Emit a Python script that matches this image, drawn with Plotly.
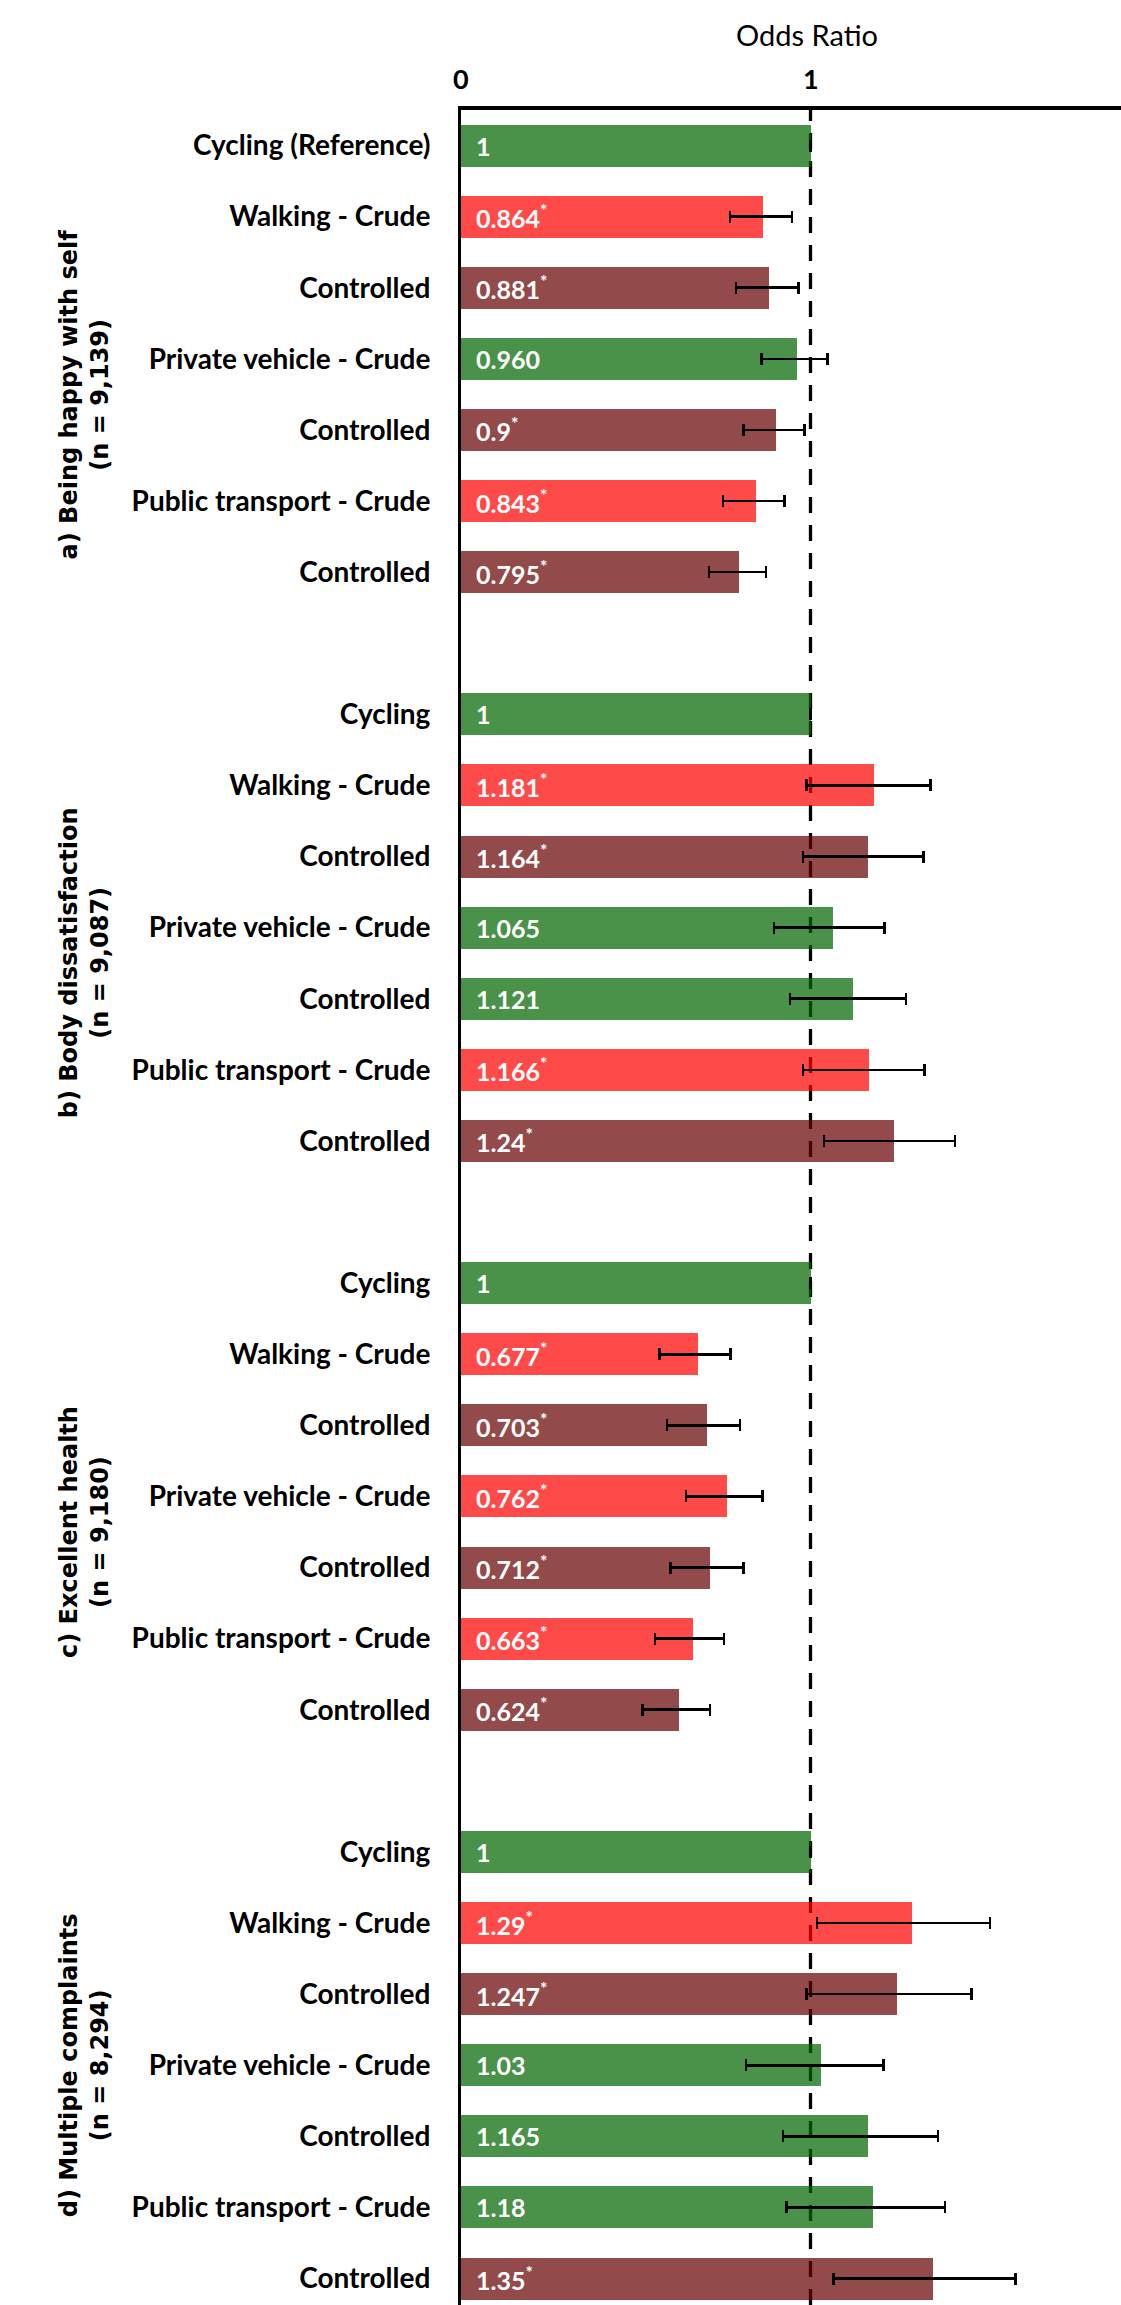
import plotly.graph_objects as go

# ---------------- data ----------------
group_titles = ["a) Being happy with self", "b) Body dissatisfaction",
                "c) Excellent health", "d) Multiple complaints"]
group_n = ["9,139", "9,087", "9,180", "8,294"]

row_labels_first = ["Cycling (Reference)", "Walking - Crude", "Controlled",
                    "Private vehicle - Crude", "Controlled",
                    "Public transport - Crude", "Controlled"]
row_labels_other = ["Cycling", "Walking - Crude", "Controlled",
                    "Private vehicle - Crude", "Controlled",
                    "Public transport - Crude", "Controlled"]
row_kind = ["ref", "crude", "controlled", "crude", "controlled", "crude", "controlled"]

odds_a = [1, 0.864, 0.881, 0.960, 0.9, 0.843, 0.795]
odds_b = [1, 1.181, 1.164, 1.065, 1.121, 1.166, 1.24]
odds_c = [1, 0.677, 0.703, 0.762, 0.712, 0.663, 0.624]
odds_d = [1, 1.29, 1.247, 1.03, 1.165, 1.18, 1.35]

text_a = ["1", "0.864", "0.881", "0.960", "0.9", "0.843", "0.795"]
text_b = ["1", "1.181", "1.164", "1.065", "1.121", "1.166", "1.24"]
text_c = ["1", "0.677", "0.703", "0.762", "0.712", "0.663", "0.624"]
text_d = ["1", "1.29", "1.247", "1.03", "1.165", "1.18", "1.35"]

sig_a = [False, True, True, False, True, True, True]
sig_b = [False, True, True, False, False, True, True]
sig_c = [False, True, True, True, True, True, True]
sig_d = [False, True, True, False, False, False, True]

ci_low_a = [None, 0.770, 0.787, 0.859, 0.808, 0.750, 0.709]
ci_high_a = [None, 0.947, 0.966, 1.048, 0.983, 0.925, 0.873]
ci_low_b = [None, 0.988, 0.978, 0.896, 0.941, 0.978, 1.039]
ci_high_b = [None, 1.344, 1.324, 1.211, 1.273, 1.327, 1.413]
ci_low_c = [None, 0.568, 0.589, 0.644, 0.599, 0.555, 0.520]
ci_high_c = [None, 0.771, 0.798, 0.862, 0.808, 0.753, 0.712]
ci_low_d = [None, 1.019, 0.989, 0.815, 0.921, 0.931, 1.065]
ci_high_d = [None, 1.514, 1.460, 1.208, 1.365, 1.385, 1.586]

x_ticks = [0, 1]
x_title = "Odds Ratio"

# ---------------- styling ----------------
GREEN = "rgba(0,100,0,0.71)"
RED = "rgba(255,0,0,0.71)"
BROWN = "rgba(102,0,0,0.71)"
LABEL_FONT = "Lato"
W, H = 1121, 2305
M_L, M_T = 461, 110
X_MAX = (W - M_L) / 349.5
ROWS_PER_GROUP = 8

odds = [odds_a, odds_b, odds_c, odds_d]
texts = [text_a, text_b, text_c, text_d]
sigs = [sig_a, sig_b, sig_c, sig_d]
lows = [ci_low_a, ci_low_b, ci_low_c, ci_low_d]
highs = [ci_high_a, ci_high_b, ci_high_c, ci_high_d]

ys, xs, cols, err_p, err_m, tick_text, ann = [], [], [], [], [], [], []
for g in range(len(group_titles)):
    labels = row_labels_first if g == 0 else row_labels_other
    for i in range(len(labels)):
        y = g * ROWS_PER_GROUP + i
        v = odds[g][i]
        ys.append(y)
        xs.append(v)
        tick_text.append(labels[i])
        if not sigs[g][i]:
            cols.append(GREEN)
        elif row_kind[i] == "crude":
            cols.append(RED)
        else:
            cols.append(BROWN)
        lo, hi = lows[g][i], highs[g][i]
        err_p.append(None if hi is None else hi - v)
        err_m.append(None if lo is None else v - lo)
        t = texts[g][i] + ("<sup>*</sup>" if sigs[g][i] else "")
        ann.append(dict(x=0, y=y, xref="x", yref="y", text=t, showarrow=False,
                        xanchor="left", yanchor="middle", xshift=13,
                        font=dict(family=LABEL_FONT, size=25, color="white", weight=700)))

fig = go.Figure()
fig.add_trace(go.Bar(
    x=xs, y=ys, orientation="h", width=0.59,
    marker=dict(color=cols, line=dict(width=0)),
    error_x=dict(type="data", symmetric=False, array=err_p, arrayminus=err_m,
                 color="black", thickness=2.6, width=6),
    hoverinfo="skip", showlegend=False,
))

plot_h = H - M_T
row_px = 71.1
y_bottom = -0.5 + plot_h / row_px

# group labels (rotated)
for g, (title, n) in enumerate(zip(group_titles, group_n)):
    start = g * ROWS_PER_GROUP
    span = ROWS_PER_GROUP if g < len(group_titles) - 1 else len(row_labels_other)
    center = start + (span - 1) / 2
    ann.append(dict(x=(84 - M_L) / (W - M_L), y=center, xref="paper", yref="y",
                    text=f"{title}<br>(n = {n})", showarrow=False, textangle=-90,
                    xanchor="center", yanchor="middle",
                    font=dict(family="DejaVu Sans", size=24, color="black", weight=700)))

# x tick labels on top (as annotations for exact placement)
for t in x_ticks:
    ann.append(dict(x=t, y=1 + (M_T - 78) / plot_h, xref="x", yref="paper",
                    text=str(t), showarrow=False, xanchor="center", yanchor="middle",
                    font=dict(family=LABEL_FONT, size=27, color="black", weight=700)))

# axis title
ann.append(dict(x=0.99, y=1 + (M_T - 34) / plot_h, xref="x", yref="paper",
                text=x_title, showarrow=False, xanchor="center", yanchor="middle",
                font=dict(family=LABEL_FONT, size=29, color="black")))

fig.update_layout(
    width=W, height=H,
    margin=dict(l=M_L, r=0, t=M_T, b=0, pad=0),
    plot_bgcolor="white", paper_bgcolor="white",
    bargap=0,
    annotations=ann,
    shapes=[dict(type="line", xref="x", yref="paper", x0=1, x1=1, y0=0, y1=1,
                 layer="below", line=dict(color="black", width=3.3, dash="16px,12px"))],
    xaxis=dict(range=[0, X_MAX], side="top", showticklabels=False,
               showgrid=False, zeroline=False,
               showline=True, linecolor="black", linewidth=4, ticks=""),
    yaxis=dict(range=[y_bottom, -0.5], tickvals=ys, ticktext=tick_text,
               showgrid=False, zeroline=False, showline=True, linecolor="black",
               linewidth=3, ticks="", ticklabelstandoff=22,
               tickfont=dict(family=LABEL_FONT, size=28, color="black", weight=700)),
)

fig.write_html("out.html")
